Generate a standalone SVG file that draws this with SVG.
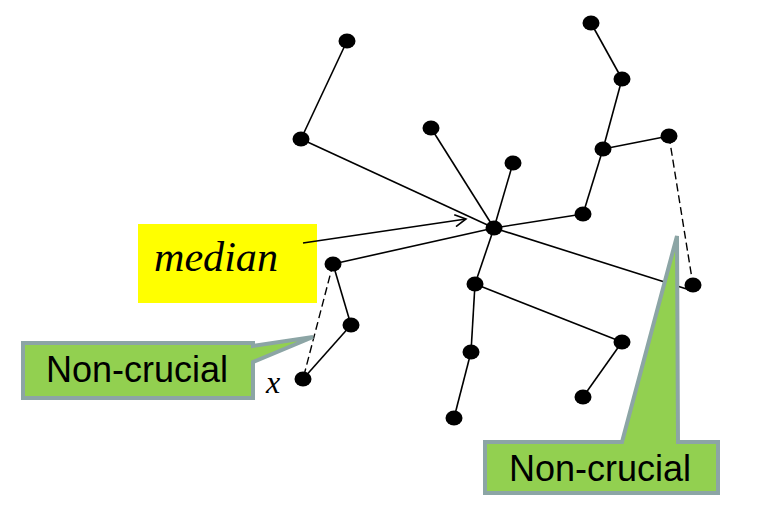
<svg xmlns="http://www.w3.org/2000/svg" width="770" height="522" viewBox="0 0 770 522">
<style>
.e{stroke:#000;stroke-width:1.6;fill:none}
.d{stroke:#000;stroke-width:1.4;fill:none;stroke-dasharray:8,4}
.n{fill:#000}
.co{fill:#92d050;stroke:#8ca5a5;stroke-width:4;stroke-linejoin:miter}
.ct{font-family:"Liberation Sans",Arial,sans-serif;font-size:36px;fill:#000}
</style>
<defs>
<marker id="arr" markerWidth="14" markerHeight="14" refX="12" refY="7" orient="auto" markerUnits="userSpaceOnUse">
<path d="M1,1 L12,7 L1,13" fill="none" stroke="#000" stroke-width="1.6"/>
</marker>
</defs>
<rect width="770" height="522" fill="#fff"/>
<g id="connectors">
<line class="e" x1="347" y1="41" x2="301" y2="139"/>
<line class="e" x1="301" y1="139" x2="494" y2="228"/>
<line class="e" x1="431" y1="128" x2="494" y2="228"/>
<line class="e" x1="513" y1="163" x2="494" y2="228"/>
<line class="e" x1="583" y1="214" x2="494" y2="228"/>
<line class="e" x1="494" y1="228" x2="693" y2="291"/>
<line class="e" x1="583" y1="214" x2="603" y2="149"/>
<line class="e" x1="603" y1="149" x2="622" y2="79"/>
<line class="e" x1="622" y1="79" x2="591" y2="23"/>
<line class="e" x1="603" y1="149" x2="669" y2="136"/>
<line class="d" x1="669" y1="136" x2="693" y2="285"/>
<line class="e" x1="494" y1="228" x2="475" y2="284"/>
<line class="e" x1="475" y1="284" x2="622" y2="342"/>
<line class="e" x1="622" y1="342" x2="583" y2="397"/>
<line class="e" x1="475" y1="284" x2="471" y2="352"/>
<line class="e" x1="471" y1="352" x2="454" y2="418"/>
<line class="e" x1="333" y1="264" x2="494" y2="228"/>
<line class="e" x1="333" y1="264" x2="351" y2="325"/>
<line class="e" x1="351" y1="325" x2="303" y2="379"/>
<line class="d" x1="333" y1="264" x2="303" y2="379"/>
</g>
<g id="median-label">
<rect x="138" y="224" width="179" height="79" fill="#ffff00"/>
<text x="154" y="271" font-family="'Liberation Serif','Times New Roman',serif" font-style="italic" font-size="42" textLength="124" lengthAdjust="spacingAndGlyphs">median</text>
<line x1="303" y1="243" x2="466" y2="219" stroke="#000" stroke-width="1.6" marker-end="url(#arr)"/>
</g>
<g id="nodes">
<ellipse id="nA" class="n" cx="347" cy="41" rx="8.5" ry="7.5"/>
<ellipse id="nB" class="n" cx="301" cy="139" rx="8.5" ry="7.5"/>
<ellipse id="nC" class="n" cx="431" cy="128" rx="8.5" ry="7.5"/>
<ellipse id="nD" class="n" cx="513" cy="163" rx="8.5" ry="7.5"/>
<ellipse id="nM" class="n" cx="494" cy="228" rx="8.5" ry="7.5"/>
<ellipse id="nE" class="n" cx="583" cy="214" rx="8.5" ry="7.5"/>
<ellipse id="nF" class="n" cx="603" cy="149" rx="8.5" ry="7.5"/>
<ellipse id="nG" class="n" cx="622" cy="79" rx="8.5" ry="7.5"/>
<ellipse id="nH" class="n" cx="591" cy="23" rx="8.5" ry="7.5"/>
<ellipse id="nI" class="n" cx="669" cy="136" rx="8.5" ry="7.5"/>
<ellipse id="nK" class="n" cx="475" cy="284" rx="8.5" ry="7.5"/>
<ellipse id="nL" class="n" cx="622" cy="342" rx="8.5" ry="7.5"/>
<ellipse id="nN" class="n" cx="583" cy="397" rx="8.5" ry="7.5"/>
<ellipse id="nO" class="n" cx="471" cy="352" rx="8.5" ry="7.5"/>
<ellipse id="nP" class="n" cx="454" cy="418" rx="8.5" ry="7.5"/>
<ellipse id="nQ" class="n" cx="333" cy="264" rx="8.5" ry="7.5"/>
<ellipse id="nR" class="n" cx="351" cy="325" rx="8.5" ry="7.5"/>
<ellipse id="nX" class="n" cx="303" cy="379" rx="8.5" ry="7.5"/>
<text x="266" y="393" font-family="'Liberation Serif','Times New Roman',serif" font-style="italic" font-size="32">x</text>
</g>
<g id="callout-left">
<path class="co" d="M23,343 L253,343 L253,346 L313,337 L253,362 L253,398 L23,398 Z"/>
<text class="ct" x="46" y="382">Non-crucial</text>
</g>
<g id="callout-right">
<path class="co" d="M485,442 L622,442 L677,236 L678,442 L718,442 L718,493 L485,493 Z"/>
<text class="ct" x="509" y="481">Non-crucial</text>
</g>
<ellipse id="nJ" class="n" cx="693" cy="285" rx="8.5" ry="7.5"/>
</svg>
